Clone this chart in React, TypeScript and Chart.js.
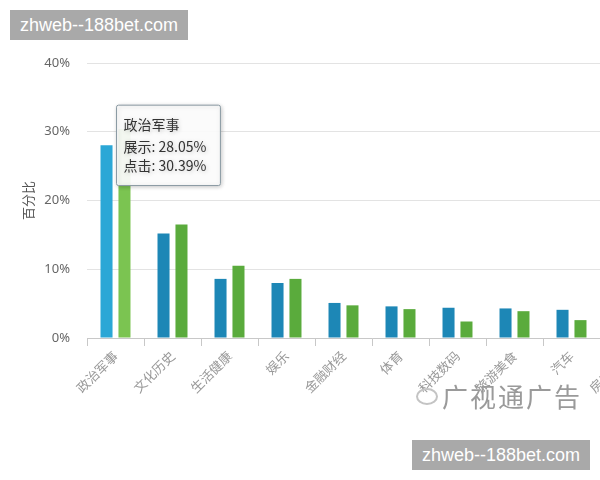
import React, { useEffect, useRef } from "react";
import { Chart, registerables, Tooltip } from "chart.js";

Chart.register(...registerables);

const categories = ["政治军事", "文化历史", "生活健康", "娱乐", "金融财经", "体育", "科技数码", "旅游美食", "汽车", "房产家居"];
const showValues = [28.05, 15.2, 8.6, 8.0, 5.1, 4.6, 4.4, 4.3, 4.1, 3.6];
const clickValues = [30.39, 16.5, 10.5, 8.6, 4.75, 4.2, 2.4, 3.9, 2.6, 2.8];
const seriesNames = ["展示", "点击"];
const yTicks = [0, 10, 20, 30, 40];

const BLUE = "#1d87b6";
const BLUE_HI = "#2ba7d6";
const GREEN = "#5aab3c";
const GREEN_HI = "#7bc451";

(Tooltip as any).positioners.fixedRight = function (elements: any[]) {
  if (!elements.length) return false;
  const el = elements[0].element;
  return { x: el.x + 12, y: el.y - 40 };
};

export default function App() {
  const ref = useRef<HTMLCanvasElement>(null);
  useEffect(() => {
    if (!ref.current) return;
    const shadowPlugin = {
      id: "tipShadow",
      beforeTooltipDraw(chart: any) {
        const ctx = chart.ctx;
        ctx.save();
        ctx.shadowColor = "rgba(0,0,0,0.22)";
        ctx.shadowBlur = 4;
        ctx.shadowOffsetX = 1;
        ctx.shadowOffsetY = 1;
      },
      afterTooltipDraw(chart: any) {
        chart.ctx.restore();
      },
    };
    const chart = new Chart(ref.current, {
      type: "bar",
      data: {
        labels: categories,
        datasets: [
          {
            label: seriesNames[0],
            data: showValues,
            backgroundColor: showValues.map((_, i) => (i === 0 ? BLUE_HI : BLUE)),
            hoverBackgroundColor: BLUE_HI,
            categoryPercentage: 0.63,
            barPercentage: 0.67,
          },
          {
            label: seriesNames[1],
            data: clickValues,
            backgroundColor: clickValues.map((_, i) => (i === 0 ? GREEN_HI : GREEN)),
            hoverBackgroundColor: GREEN_HI,
            categoryPercentage: 0.63,
            barPercentage: 0.67,
          },
        ],
      },
      options: {
        responsive: false,
        devicePixelRatio: 1,
        animation: false,
        events: [],
        layout: { padding: { top: 63, right: 23, left: 0, bottom: 0 } },
        plugins: {
          legend: { display: false },
          tooltip: {
            enabled: true,
            position: "fixedRight" as any,
            xAlign: "left",
            yAlign: "top",
            caretSize: 0,
            caretPadding: 0,
            cornerRadius: 2,
            backgroundColor: "rgba(255,255,255,0.92)",
            borderColor: "#8a9aa3",
            borderWidth: 1,
            titleColor: "#333",
            bodyColor: "#333",
            titleFont: { family: "'Noto Sans CJK SC', sans-serif", size: 14, weight: "normal" as any },
            bodyFont: { family: "'Noto Sans CJK SC', sans-serif", size: 14 },
            padding: { top: 11, bottom: 11, left: 7, right: 14 },
            titleMarginBottom: 5,
            bodySpacing: 3,
            displayColors: false,
            callbacks: {
              label: (ctx: any) => `${ctx.dataset.label}: ${ctx.parsed.y.toFixed(2)}%`,
            },
          },
        },
        scales: {
          x: {
            grid: {
              display: true,
              drawOnChartArea: false,
              drawTicks: true,
              tickLength: 8,
              color: "#c8c8c8",
              offset: true,
            },
            border: { display: true, color: "#c8c8c8" },
            ticks: {
              autoSkip: false,
              minRotation: 45,
              maxRotation: 45,
              padding: 2,
              color: "#999",
              font: { family: "'Noto Sans CJK SC', sans-serif", size: 13 },
            },
            afterFit: (s: any) => {
              s.height = 142;
            },
          },
          y: {
            min: 0,
            max: 40,
            afterBuildTicks: (s: any) => {
              s.ticks = yTicks.map((v) => ({ value: v }));
            },
            grid: { color: "#e3e3e3", drawTicks: false },
            border: { display: false },
            ticks: {
              padding: 17,
              color: "#666",
              font: { family: "'Noto Sans', sans-serif", size: 13 },
              callback: (v: any) => `${v}%`,
            },
            title: {
              display: true,
              text: "百分比",
              color: "#555",
              padding: { top: 20, bottom: 0 },
              font: { family: "'Noto Sans CJK SC', sans-serif", size: 13 },
            },
            afterFit: (s: any) => {
              s.width = 87;
            },
          },
        },
      },
      plugins: [shadowPlugin],
    });
    const active = [
      { datasetIndex: 0, index: 0 },
      { datasetIndex: 1, index: 0 },
    ];
    chart.tooltip!.setActiveElements(active, { x: 0, y: 0 });
    chart.update();
    return () => chart.destroy();
  }, []);

  const boxStyle: React.CSSProperties = {
    position: "absolute",
    background: "#a9a9a9",
    color: "#fff",
    fontFamily: "'Liberation Sans', Arial, sans-serif",
    fontSize: 18,
    lineHeight: "30px",
    height: 30,
    width: 178,
    textAlign: "center",
  };

  return (
    <div style={{ position: "fixed", left: 0, top: 0, width: 600, height: 480, overflow: "hidden", background: "#fff" }}>
      <canvas ref={ref} width={680} height={480} style={{ position: "absolute", left: 0, top: 0 }} />
      <div style={{ ...boxStyle, left: 10, top: 10 }}>zhweb--188bet.com</div>
      <div style={{ ...boxStyle, left: 412, top: 440 }}>zhweb--188bet.com</div>
      <div
        style={{
          position: "absolute",
          left: 416,
          top: 381,
          color: "#9a9a9a",
          fontFamily: "'Noto Sans CJK SC', sans-serif",
          fontSize: 26,
          letterSpacing: 2,
          lineHeight: "30px",
          display: "flex",
          alignItems: "center",
          gap: 4,
        }}
      >
        <span
          style={{
            display: "inline-block",
            width: 22,
            height: 17,
            borderRadius: "50%",
            border: "2px solid #c4c4c4",
            boxSizing: "border-box",
          }}
        />
        <span>广视通广告</span>
      </div>
    </div>
  );
}
